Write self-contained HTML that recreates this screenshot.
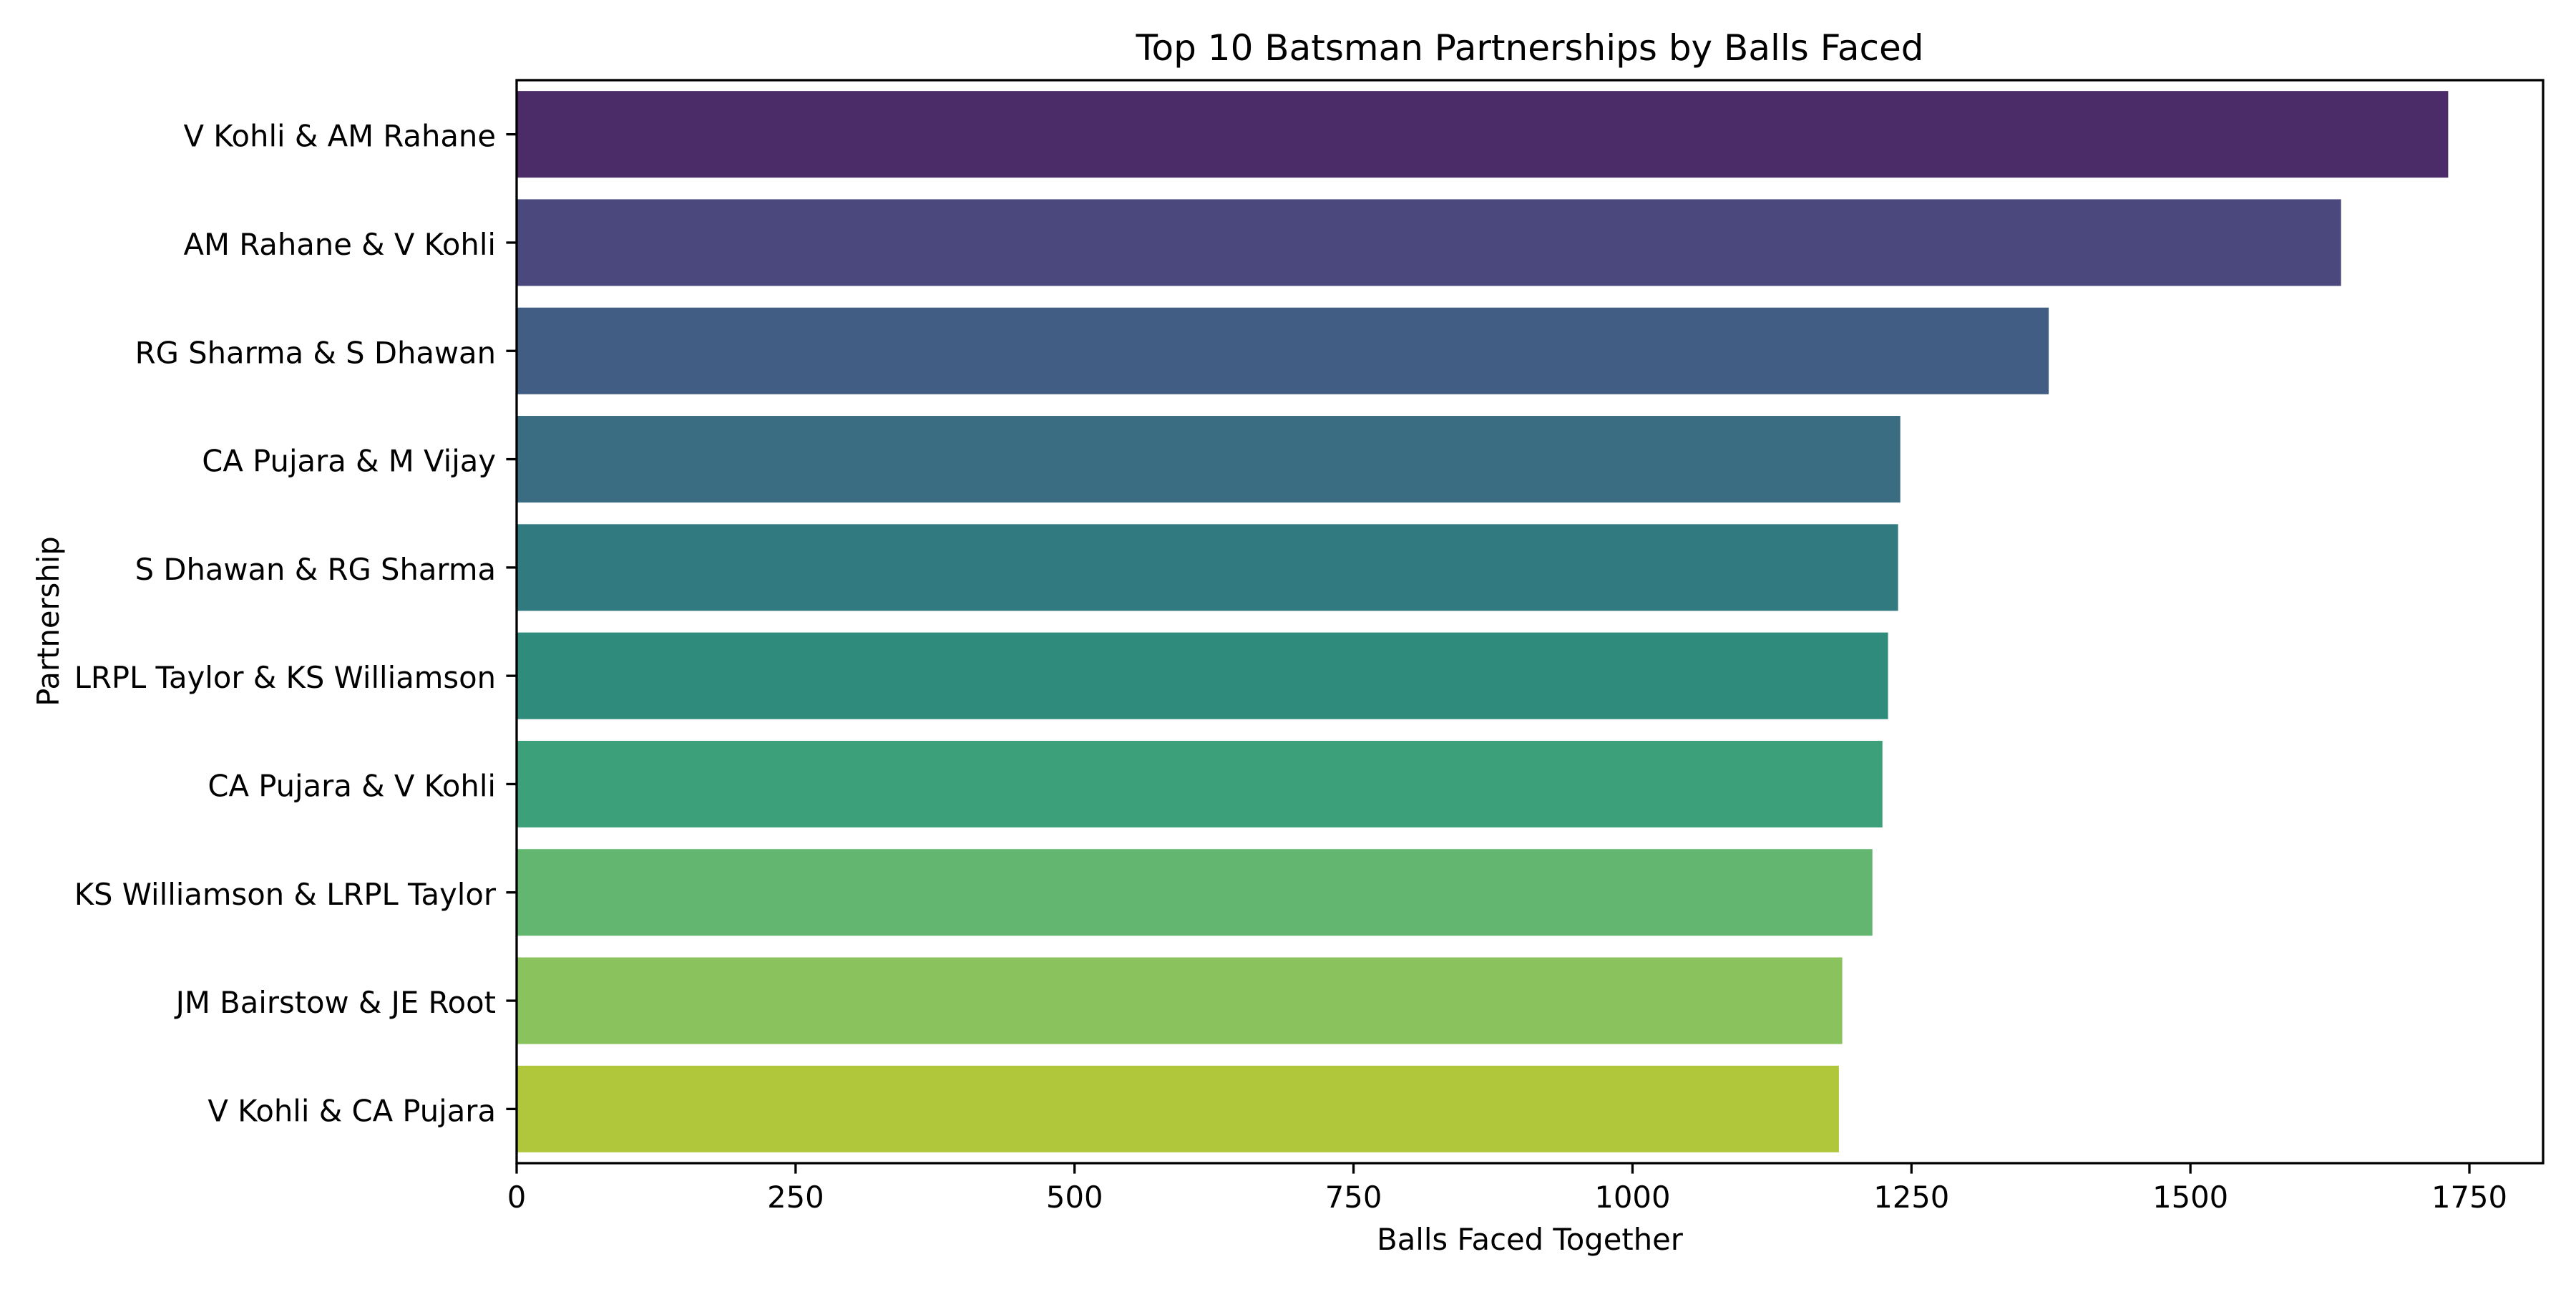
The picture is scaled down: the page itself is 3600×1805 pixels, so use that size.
<!DOCTYPE html>
<html><head><meta charset="utf-8"><style>
html,body{margin:0;padding:0;background:#fff}
svg text{font-family:"DejaVu Sans","Liberation Sans",sans-serif;fill:#000}
</style></head><body>
<svg id="chart" xmlns="http://www.w3.org/2000/svg" width="3600" height="1800" viewBox="0 0 3600 1800">
<rect width="3600" height="1800" fill="#fff"/>
<text x="2138" y="84" font-size="50" text-anchor="middle">Top 10 Batsman Partnerships by Balls Faced</text>
<g id="bars"></g>
<g id="xaxis"></g>
<g id="yaxis"></g>
<rect x="722" y="112" width="2832" height="1513" fill="none" stroke="#000" stroke-width="3.3"/>
<text x="2138" y="1746" font-size="41.7" text-anchor="middle">Balls Faced Together</text>
<text x="0" y="0" font-size="41.7" text-anchor="middle" transform="translate(82,868) rotate(-90)">Partnership</text>
</svg>
<script>
const categories = ["V Kohli & AM Rahane","AM Rahane & V Kohli","RG Sharma & S Dhawan","CA Pujara & M Vijay","S Dhawan & RG Sharma","LRPL Taylor & KS Williamson","CA Pujara & V Kohli","KS Williamson & LRPL Taylor","JM Bairstow & JE Root","V Kohli & CA Pujara"];
const ballsFaced = [1731,1635,1373,1240,1238,1229,1224,1215,1188,1185];
const barColors = ["#4b2b68","#4b487e","#425d84","#3a6c82","#317b80","#2f8b7c","#3ca17a","#62b670","#8ac35d","#b1c73b"];
const xTicks = [0,250,500,750,1000,1250,1500,1750];
const xTickLabels = ["0","250","500","750","1000","1250","1500","1750"];

const NS="http://www.w3.org/2000/svg";
const L=722,R=3554,T=112,B=1625;
const xScale=v=>L+v*(3451-L)/1750;
const band=(B-T)/categories.length;
const yCenter=i=>T+band*(i+0.5);
function mk(tag,attrs,parent){const e=document.createElementNS(NS,tag);for(const k in attrs)e.setAttribute(k,attrs[k]);parent.appendChild(e);return e;}
const gb=document.getElementById('bars'),gx=document.getElementById('xaxis'),gy=document.getElementById('yaxis');
categories.forEach((c,i)=>{
  const r=mk('rect',{x:xScale(0),y:yCenter(i)-band*0.4,width:xScale(ballsFaced[i])-xScale(0),height:band*0.8,fill:barColors[i%barColors.length]},gb);
  
  
  const t=mk('line',{x1:L-14.6,x2:L,y1:yCenter(i),y2:yCenter(i),stroke:'#000','stroke-width':3.3},gy);
  
  
  const tx=mk('text',{x:L-29,y:yCenter(i)+17,'font-size':41.7,'text-anchor':'end'},gy);
  tx.textContent=c;
  
  
});
xTicks.forEach((v,i)=>{
  const t=mk('line',{x1:xScale(v),x2:xScale(v),y1:B,y2:B+14.6,stroke:'#000','stroke-width':3.3},gx);
  
  
  const tx=mk('text',{x:xScale(v),y:B+62,'font-size':41.7,'text-anchor':'middle'},gx);
  tx.textContent=xTickLabels[i];
  
  
});
</script>
</body></html>
